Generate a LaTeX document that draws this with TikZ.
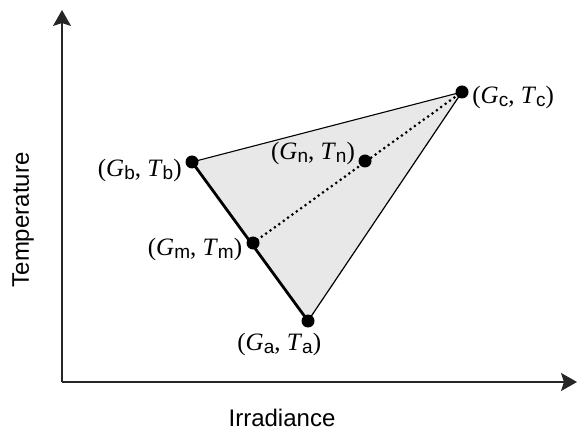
\documentclass[tikz,border=0pt]{standalone}
\usepackage{fontspec}
\setmainfont{Liberation Serif}
\newfontfamily\axfont{Liberation Sans}
\usetikzlibrary{arrows.meta}
\newcommand\ptlbl[1]{(\textit{G}{\axfont\fontsize{9.5}{10}\selectfont\raisebox{-0.35ex}{#1}}, \textit{T}{\axfont\fontsize{9.5}{10}\selectfont\raisebox{-0.35ex}{#1}})}
\tikzset{
  axis/.style={line width=0.8pt, draw=black!85, -{Stealth[length=8pt,width=9pt,inset=1.5pt]}},
  pdot/.style={circle, fill=black, inner sep=0pt, minimum size=6.5pt},
  plbl/.style={font=\fontsize{12.5}{14}\selectfont, inner sep=0pt},
  axlbl/.style={font=\axfont\fontsize{12}{14}\selectfont, inner sep=0pt}
}
\begin{document}
\begin{tikzpicture}[x=0.5pt,y=-0.5pt]
\useasboundingbox (0,0) rectangle (577,432);
% axes
\coordinate (O) at (62,382);
\coordinate (ytop) at (62,10);
\coordinate (xend) at (577,382);
\draw[axis] (O) -- (ytop);
\draw[axis] (O) -- (xend);
\node[axlbl, rotate=90] (ylab) at (23,220) {Temperature};
\node[axlbl] (xlab) at (282,418) {Irradiance};
% points
\coordinate (a) at (308,321);
\coordinate (b) at (192,162);
\coordinate (c) at (462,92);
\coordinate (m) at (253,243);
\coordinate (n) at (365,161);
\fill[black!9] (a) -- (b) -- (c) -- cycle;
\draw[line width=0.55pt] (b) -- (c);
\draw[line width=0.6pt] (c) -- (a);
\draw[line width=1.4pt] (b) -- (a);
\draw[line width=1.5pt, dash pattern=on 0pt off 2.7pt, line cap=round] (m) -- (c);
\node[pdot] (pa) at (a) {};
\node[pdot] (pb) at (b) {};
\node[pdot] (pc) at (c) {};
\node[pdot] (pm) at (m) {};
\node[pdot] (pn) at (n) {};
\node[plbl, anchor=west] (la) at (237,344) {\ptlbl{a}};
\node[plbl, anchor=east] (lb) at (182,170) {\ptlbl{b}};
\node[plbl, anchor=west] (lc) at (472,97) {\ptlbl{c}};
\node[plbl] (ln) at (313,153) {\ptlbl{n}};
\node[plbl] (lm) at (195,249) {\ptlbl{m}};
\end{tikzpicture}
\end{document}
